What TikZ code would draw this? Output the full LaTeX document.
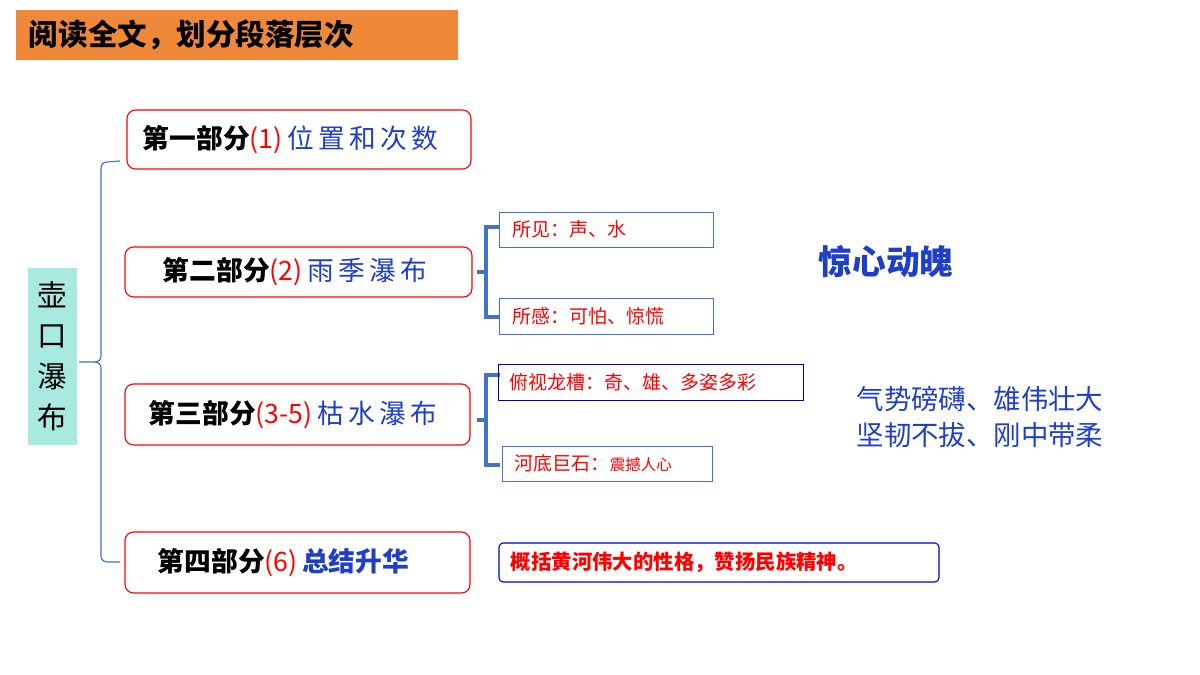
\documentclass[tikz,border=0pt]{standalone}
\usepackage{fontspec}
\setmainfont{Noto Sans CJK SC}
\usetikzlibrary{positioning}
\definecolor{titleorange}{HTML}{F0883A}
\definecolor{tealfill}{HTML}{A8EAE0}
\definecolor{linkblue}{HTML}{4472C4}
\definecolor{textblue}{HTML}{1F3FC8}
\tikzset{
 part/.style={draw=red,rounded corners=6pt,thick,inner sep=0pt},
 subtext/.style={text=red,font=\fontsize{13.5}{15}\selectfont,anchor=west},
 brace/.style={draw=linkblue,line width=2.6pt}
}
\begin{document}
\begin{tikzpicture}[x=0.025cm,y=-0.025cm]
  \useasboundingbox (0,0) rectangle (1200,675);
  % title
  \fill[titleorange] (16,10) rectangle (458,60);
  \node[anchor=west,font=\bfseries\fontsize{21}{24}\selectfont] (title) at (24,35) {阅读全文，划分段落层次};
  % left box
  \fill[tealfill] (28,268) rectangle (77,445);
  \node[align=center,font=\fontsize{21}{29}\selectfont] (main) at (52.5,356) {壶\\口\\瀑\\布};
  \coordinate (mainr) at (79,362);
  % parts
  \draw[part] (127,110) rectangle (471,169);
  \node[anchor=west,font=\fontsize{19}{20}\selectfont] (p1) at (138,139.5) {\textbf{第一部分}\textcolor{red}{(1)\,}\textcolor{textblue}{位\,置\,和\,次\,数}};
  \draw[part] (125,247) rectangle (472,297);
  \node[anchor=west,font=\fontsize{19}{20}\selectfont] (p2) at (158,272) {\textbf{第二部分}\textcolor{red}{(2)\,}\textcolor{textblue}{雨\,季\,瀑\,布}};
  \draw[part] (125,384) rectangle (470,445);
  \node[anchor=west,font=\fontsize{19}{20}\selectfont] (p3) at (144,414.5) {\textbf{第三部分}\textcolor{red}{(3-5)\,}\textcolor{textblue}{枯\,水\,瀑\,布}};
  \draw[part] (125,532) rectangle (470,593);
  \node[anchor=west,font=\fontsize{19}{20}\selectfont] (p4) at (153,562.5) {\textbf{第四部分}\textcolor{red}{(6)\,}\textcolor{textblue}{\textbf{总结升华}}};
  % main bracket
  \draw[linkblue,thick] (mainr) -- (95,362) to[out=0,in=-90] (101,356) -- (101,168) to[out=90,in=180] (107,162) -- (120,161);
  \draw[linkblue,thick] (95,362) to[out=0,in=90] (101,368) -- (101,556) to[out=-90,in=180] (107,562) -- (120,562);
  % sub brackets
  \draw[brace] (477,272) -- (486,272);
  \draw[brace] (500,227) -- (486,227) -- (486,317) -- (500,317);
  \draw[brace] (477,420) -- (486,420);
  \draw[brace] (500,375) -- (486,375) -- (486,465) -- (500,465);
  % sub boxes
  \draw[linkblue] (499,212) rectangle (713,247);
  \node[subtext] (s1) at (508,229.5) {所见：声、水};
  \draw[linkblue] (499,298) rectangle (713,334);
  \node[subtext] (s2) at (508,316) {所感：可怕、惊慌};
  \draw[blue!80!black] (498,364) rectangle (803,400);
  \node[subtext] (s3) at (505,382) {俯视龙槽：奇、雄、多姿多彩};
  \draw[linkblue] (502,446) rectangle (712,481);
  \node[subtext] (s4) at (510,463.5) {河底巨石：\fontsize{11}{12}\selectfont 震撼人心};
  % summary
  \draw[blue!80!black,thick,rounded corners=3pt] (499,543) rectangle (939,582);
  \node[anchor=west,text=red,font=\bfseries\fontsize{14.5}{16}\selectfont] (s5) at (506,562.5) {概括黄河伟大的性格，赞扬民族精神。};
  \node[text=textblue,font=\bfseries\fontsize{24}{26}\selectfont] (r1) at (886,262) {惊心动魄};
  \node[text=textblue,align=left,font=\fontsize{19.5}{25}\selectfont] (r2) at (980,417) {气势磅礴、雄伟壮大\\坚韧不拔、刚中带柔};
\end{tikzpicture}
\end{document}
